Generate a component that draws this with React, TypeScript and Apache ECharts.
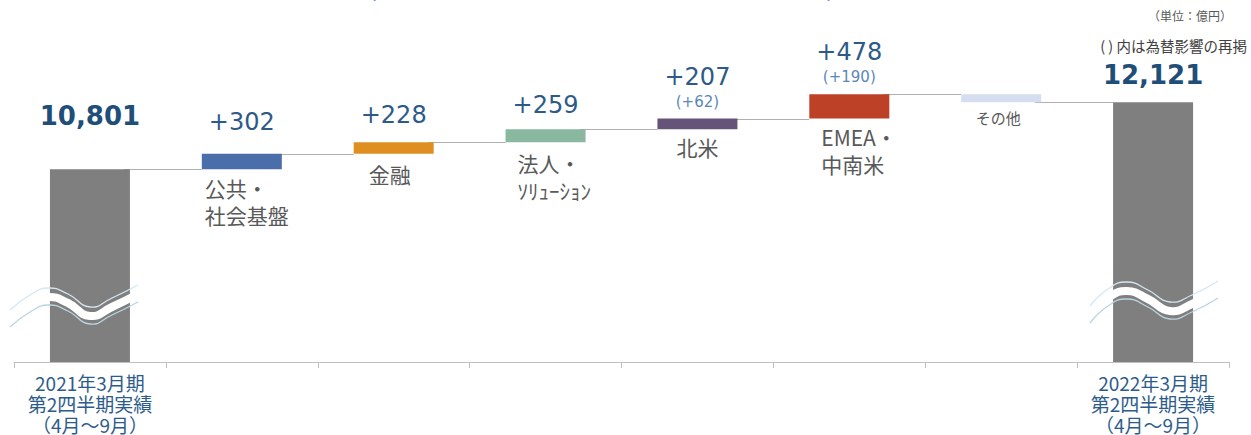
import React, { useEffect, useRef } from 'react';
import * as echarts from 'echarts';

// ---- data ----
const categories = [
  '2021年3月期\n第2四半期実績\n（4月～9月）',
  '公共・\n社会基盤',
  '金融',
  '法人・\nｿﾘｭｰｼｮﾝ',
  '北米',
  'EMEA・\n中南米',
  'その他',
  '2022年3月期\n第2四半期実績\n（4月～9月）',
];
const startTotal = 10801;
const endTotal = 12121;
const deltas = [302, 228, 259, 207, 478, -154];
const fxImpact: (number | null)[] = [null, null, null, 62, 190, null];
const barColors = ['#7f7f7f', '#4a6ea9', '#df8f22', '#89b79f', '#66537a', '#bd4127', '#d4def0', '#7f7f7f'];

const FONT = '"Noto Sans CJK JP", "Noto Sans", sans-serif';
const NUMFONT = '"DejaVu Sans", "Noto Sans", sans-serif';
const BAR_W = 80;

export default function App() {
  const ref = useRef<HTMLDivElement>(null);

  useEffect(() => {
    if (!ref.current) return;
    const chart = echarts.init(ref.current, null, { renderer: 'svg' });

    // waterfall build
    const helper: number[] = [0];
    const visible: number[] = [startTotal];
    const levels: number[] = [startTotal];
    let cum = startTotal;
    deltas.forEach((d) => {
      helper.push(d >= 0 ? cum : cum + d);
      visible.push(Math.abs(d));
      cum += d;
      levels.push(cum);
    });
    helper.push(0);
    visible.push(endTotal);
    levels.push(endTotal);

    const valueDist = [38, 18, 13, 10, 6, 6, 0, 12];
    const nameDist = [0, 5, 7, 7, 4, 5, 2, 0];
    const nameOffsetX = [0, -37, -4, -28, 0, -28, -3, 0];
    const nameAlign = ['center', 'left', 'center', 'left', 'center', 'left', 'center', 'center'];

    const visibleData = visible.map((v, i) => {
      const isTotal = i === 0 || i === visible.length - 1;
      let label: any;
      if (isTotal) {
        label = {
          show: true,
          position: 'top',
          distance: valueDist[i],
          formatter: () => '{t|' + v.toLocaleString('en-US') + '}',
        };
      } else {
        const d = deltas[i - 1];
        const fx = fxImpact[i - 1];
        label = {
          show: d > 0,
          position: 'top',
          distance: valueDist[i],
          formatter: () => '{v|+' + d + '}' + (fx != null ? '\n{f|(+' + fx + ')}' : ''),
        };
      }
      return { value: v, itemStyle: { color: barColors[i] }, label };
    });

    const helperData = helper.map((h, i) => {
      const isTotal = i === 0 || i === helper.length - 1;
      return {
        value: h,
        label: {
          show: !isTotal,
          position: 'insideTop',
          distance: nameDist[i],
          align: nameAlign[i],
          offset: [nameOffsetX[i], 0],
          formatter: () => categories[i],
          fontSize: i === 6 ? 15 : 21,
          lineHeight: 27,
          color: '#595959',
        },
      };
    });

    const connectorData = levels.slice(0, -1).map((c, i) => [i, c]);

    const wave = (pts: number[][], dy: number) => pts.map(([x, y]) => [x, y + dy]);
    const leftWave = [[10, 319], [30, 304], [48, 297], [68, 303], [90, 316], [112, 307], [138, 294]];
    const rightWave = [[1090, 315], [1108, 298], [1127, 291], [1148, 299], [1170, 311], [1192, 304], [1218, 290]];
    const waveEls = (pts: number[][]) => [
      { type: 'polyline', z: 100, shape: { points: wave(pts, -9), smooth: 0.5 }, style: { stroke: '#d3e7f0', lineWidth: 1.3, fill: null } },
      { type: 'polyline', z: 100, shape: { points: wave(pts, 8), smooth: 0.5 }, style: { stroke: '#b9d5e0', lineWidth: 1.3, fill: null } },
      { type: 'polyline', z: 101, shape: { points: pts, smooth: 0.5 }, style: { stroke: '#ffffff', lineWidth: 8, fill: null } },
    ];

    chart.setOption({
      animation: false,
      textStyle: { fontFamily: FONT },
      grid: { left: 14, right: 22, top: 17, bottom: 73, containLabel: false },
      xAxis: {
        type: 'category',
        data: categories,
        axisLine: { lineStyle: { color: '#bfbfbf', width: 1 } },
        axisTick: { show: true, length: 6, lineStyle: { color: '#bfbfbf' } },
        axisLabel: {
          interval: 0,
          margin: 10,
          formatter: (val: string, idx: number) => (idx === 0 || idx === categories.length - 1 ? val : ''),
          color: '#2e5c8a',
          fontSize: 19,
          lineHeight: 21,
          fontFamily: FONT,
        },
      },
      yAxis: {
        type: 'value',
        min: 7000,
        max: 13800,
        show: false,
        splitLine: { show: false },
      },
      series: [
        {
          type: 'custom',
          data: connectorData,
          z: 1,
          silent: true,
          renderItem: (params: any, api: any) => {
            const i = api.value(0);
            const lv = api.value(1);
            const p1 = api.coord([i, lv]);
            const p2 = api.coord([i + 1, lv]);
            const y = Math.round(p1[1]) + 0.5;
            return {
              type: 'line',
              shape: { x1: p1[0] + BAR_W / 2 - 6, y1: y, x2: p2[0] - BAR_W / 2, y2: y },
              style: { stroke: '#b0b0b0', lineWidth: 1 },
            };
          },
        },
        {
          type: 'bar',
          stack: 'w',
          barWidth: BAR_W,
          z: 3,
          itemStyle: { color: 'rgba(0,0,0,0)' },
          data: helperData,
          silent: true,
        },
        {
          type: 'bar',
          stack: 'w',
          barWidth: BAR_W,
          z: 3,
          data: visibleData,
          label: {
            rich: {
              t: { fontSize: 26, fontWeight: 'bold', color: '#1f4e79', lineHeight: 30, fontFamily: NUMFONT },
              v: { fontSize: 24, color: '#2d5a88', lineHeight: 28, fontFamily: NUMFONT },
              f: { fontSize: 15, color: '#5a87b6', lineHeight: 22, fontFamily: NUMFONT },
            },
          },
        },
      ],
      graphic: [
        ...waveEls(leftWave),
        ...waveEls(rightWave),
        {
          type: 'text', z: 50, x: 1232, y: 15,
          style: { text: '（単位：億円）', fontSize: 12, fill: '#595959', textAlign: 'right', textVerticalAlign: 'middle', fontFamily: FONT },
        },
        {
          type: 'text', z: 50, x: 1247, y: 45,
          style: { text: '( ) 内は為替影響の再掲', fontSize: 14.5, fill: '#404040', textAlign: 'right', textVerticalAlign: 'middle', fontFamily: FONT },
        },
        {
          type: 'text', z: 50, x: 372, y: -3,
          style: { text: '(', fontSize: 30, fill: '#4472c4', textAlign: 'center', textVerticalAlign: 'bottom', fontFamily: FONT },
        },
        {
          type: 'text', z: 50, x: 831, y: -3,
          style: { text: ')', fontSize: 30, fill: '#4472c4', textAlign: 'center', textVerticalAlign: 'bottom', fontFamily: FONT },
        },
      ],
    });

    return () => chart.dispose();
  }, []);

  return <div ref={ref} style={{ position: 'fixed', left: 0, top: 0, width: 1251, height: 435, background: '#fff' }} />;
}
